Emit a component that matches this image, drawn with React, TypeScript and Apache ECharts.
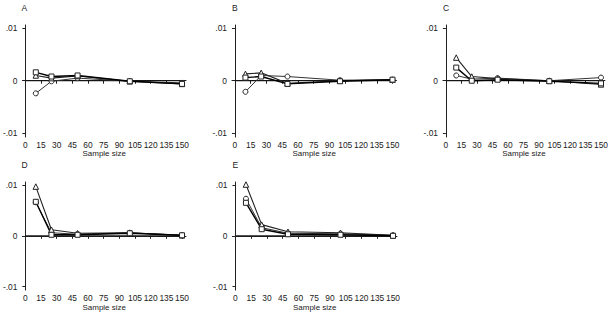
import React, { useEffect, useRef } from "react";
import * as echarts from "echarts";

// Sample sizes at which each estimator was evaluated
const sampleSizes = [10, 25, 50, 100, 150];
const xTicks = [0, 15, 30, 45, 60, 75, 90, 105, 120, 135, 150];
const yTicks = [-0.01, 0, 0.01];
const yTickLabels = ["-.01", "0", ".01"];
const panelLabels = ["A", "B", "C", "D", "E"];
const zeroLineX = [0, 150];

// Bias by sample size, one array per marker style and panel
const circleA = [-0.0024, -0.0001, 0.0005, -0.0001, -0.0004];
const triangleA = [0.001, 0.0005, 0.0009, -0.0001, -0.0006];
const squareA = [0.0016, 0.0008, 0.001, -0.0001, -0.0006];

const circleB = [-0.0021, 0.001, 0.0008, 0.0001, 0.0002];
const triangleB = [0.0013, 0.0015, -0.0005, 0.0, 0.0002];
const squareB = [0.0006, 0.0008, -0.0006, -0.0001, 0.0002];

const circleC = [0.001, 0.0003, 0.0005, 0.0, 0.0006];
const triangleC = [0.0044, 0.0008, 0.0004, 0.0, -0.0007];
const squareC = [0.0025, 0.0, 0.0002, -0.0001, -0.0005];

const circleD = [0.0066, 0.0006, 0.0003, 0.0006, 0.0001];
const triangleD = [0.0097, 0.0012, 0.0005, 0.0006, 0.0001];
const squareD = [0.0067, 0.0002, 0.0002, 0.0005, 0.0001];

const circleE = [0.0073, 0.0016, 0.0005, 0.0004, 0.0001];
const triangleE = [0.0101, 0.0022, 0.0008, 0.0006, 0.0001];
const squareE = [0.0065, 0.0013, 0.0003, 0.0002, 0.0];

const panels = [
  { circle: circleA, triangle: triangleA, square: squareA },
  { circle: circleB, triangle: triangleB, square: squareB },
  { circle: circleC, triangle: triangleC, square: squareC },
  { circle: circleD, triangle: triangleD, square: squareD },
  { circle: circleE, triangle: triangleE, square: squareE },
];

// Grid placement of each panel (3 on top, 2 below)
const gridBoxes = [
  { left: 21.5, top: 25, width: 164.5, height: 112 },
  { left: 232, top: 25, width: 164.5, height: 112 },
  { left: 443, top: 25, width: 164.5, height: 112 },
  { left: 21.5, top: 182, width: 164.5, height: 113.7 },
  { left: 232.5, top: 182, width: 164.5, height: 113.7 },
];

const FONT = "Liberation Sans, Arial, Helvetica, sans-serif";

export default function App() {
  const ref = useRef<HTMLDivElement>(null);

  useEffect(() => {
    if (!ref.current) return;
    const chart = echarts.init(ref.current, undefined, { renderer: "svg" });

    const grid = gridBoxes.map((g) => ({ ...g }));

    const xAxis = gridBoxes.map((_, i) => ({
      type: "value",
      gridIndex: i,
      min: -2.8,
      max: 153.8,
      name: "Sample size",
      nameLocation: "middle",
      nameGap: 11,
      nameTextStyle: { fontFamily: FONT, fontSize: 8, color: "#222" },
      axisLine: { show: true, lineStyle: { color: "#222", width: 1 } },
      axisTick: {
        show: true,
        length: 3,
        customValues: xTicks,
        lineStyle: { color: "#222" },
      },
      axisLabel: {
        customValues: xTicks,
        fontFamily: FONT,
        fontSize: 8.4,
        color: "#222",
        margin: 4,
      },
      splitLine: { show: false },
    }));

    const yAxis = gridBoxes.map((_, i) => ({
      type: "value",
      gridIndex: i,
      min: -0.0107,
      max: 0.0106,
      axisLine: { show: true, lineStyle: { color: "#222", width: 1 } },
      axisTick: {
        show: true,
        length: 3,
        customValues: yTicks,
        lineStyle: { color: "#222" },
      },
      axisLabel: {
        customValues: yTicks,
        fontFamily: FONT,
        fontSize: 8.4,
        color: "#222",
        margin: 5,
        formatter: (v: number) => {
          const k = yTicks.findIndex((t) => Math.abs(t - v) < 1e-9);
          return k >= 0 ? yTickLabels[k] : "";
        },
      },
      splitLine: { show: false },
    }));

    const series: any[] = [];
    panels.forEach((p, i) => {
      series.push({
        type: "line",
        xAxisIndex: i,
        yAxisIndex: i,
        data: zeroLineX.map((x) => [x, 0]),
        symbol: "none",
        lineStyle: { color: "#111", width: 1 },
        z: 1,
      });
      const styles = [
        { key: "circle", sym: "circle", size: 5, color: "#333", width: 1 },
        { key: "triangle", sym: "triangle", size: 5.5, color: "#222", width: 1.1 },
        { key: "square", sym: "rect", size: 5, color: "#000", width: 1.4 },
      ];
      styles.forEach((s) => {
        const vals = (p as any)[s.key] as number[];
        series.push({
          type: "line",
          xAxisIndex: i,
          yAxisIndex: i,
          data: sampleSizes.map((x, j) => [x, vals[j]]),
          symbol: s.sym,
          symbolSize: s.size,
          showSymbol: true,
          itemStyle: { color: "#fff", borderColor: "#222", borderWidth: 1 },
          lineStyle: { color: s.color, width: s.width },
          z: 3,
        });
      });
    });

    const graphic = gridBoxes.map((g, i) => ({
      type: "text",
      left: g.left,
      top: g.top - 22,
      style: {
        text: panelLabels[i],
        fontFamily: FONT,
        fontSize: 8.5,
        fill: "#222",
      },
    }));

    chart.setOption({
      animation: false,
      backgroundColor: "#fff",
      grid,
      xAxis,
      yAxis,
      series,
      graphic,
    });

    return () => chart.dispose();
  }, []);

  return (
    <div
      ref={ref}
      style={{ position: "fixed", left: 0, top: 0, width: 611, height: 312 }}
    />
  );
}
